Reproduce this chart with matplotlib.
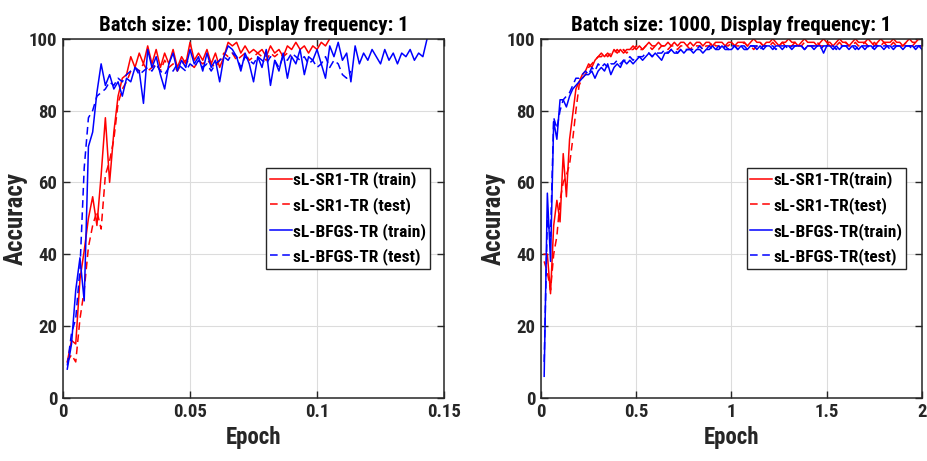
import numpy as np
import matplotlib
matplotlib.use("Agg")
import matplotlib.pyplot as plt
from matplotlib import font_manager

available = {f.name for f in font_manager.fontManager.ttflist}
narrow = [f for f in ["Roboto Condensed", "Liberation Sans Narrow", "Arial Narrow",
                      "Nimbus Sans Narrow"] if f in available]
if narrow:
    plt.rcParams["font.family"] = [narrow[0], "DejaVu Sans"]
    size_scale = 1.0
else:
    plt.rcParams["font.family"] = ["Liberation Sans", "DejaVu Sans"]
    size_scale = 0.86
plt.rcParams["font.weight"] = "bold"

# ---- batch size 100 (600 iterations per epoch) ----
iters_per_epoch_100 = 600
sr1_train_100 = [10, 16, 15, 33, 41, 50, 56, 48, 62, 78, 60, 74, 84, 89, 90, 95, 92, 96, 93, 98,
                 93, 97, 92, 96, 93, 97, 92, 95, 93, 99, 94, 96, 94, 97, 93, 96, 92, 95, 99, 98,
                 99, 96, 98, 96, 97, 96, 97, 95, 98, 96, 97, 95, 98, 97, 99, 97, 98, 96, 98, 97,
                 99, 98, 100]
sr1_test_100 = [10, 12, 10, 22, 30, 42, 48, 52, 47, 62, 66, 72, 82, 86, 88, 91, 92, 91, 93, 91,
                92, 93, 91, 94, 92, 93, 91, 93, 94, 93, 92, 94, 93, 94, 93, 92, 94, 96, 95, 96,
                94, 95, 96, 94, 95, 96, 95, 94, 96, 95, 96, 95, 96, 95]
bfgs_train_100 = [8, 15, 30, 39, 27, 70, 74, 85, 93, 87, 90, 86, 88, 84, 89, 88, 92, 91, 82, 97,
                  92, 95, 90, 86, 93, 96, 91, 94, 92, 97, 93, 95, 91, 96, 92, 94, 88, 95, 98, 97,
                  95, 91, 96, 93, 88, 95, 92, 97, 87, 94, 91, 96, 89, 95, 93, 97, 90, 95, 94, 97,
                  93, 89, 98, 95, 99, 94, 96, 88, 98, 93, 96, 94, 97, 95, 93, 97, 94, 96, 93, 96,
                  95, 97, 94, 96, 95, 100]
bfgs_test_100 = [9, 18, 22, 36, 64, 78, 80, 84, 85, 86, 88, 87, 89, 88, 90, 91, 92, 90, 91, 92,
                 91, 93, 91, 90, 92, 91, 93, 92, 91, 93, 92, 94, 92, 93, 91, 93, 94, 95, 94, 96,
                 95, 92, 95, 94, 93, 95, 94, 93, 95, 94, 92, 95, 94, 96, 95, 94, 95, 93, 94, 92,
                 93, 95, 92, 94, 93, 90, 89, 91]

# ---- batch size 1000 (60 iterations per epoch) ----
iters_per_epoch_1000 = 60
sr1_train_1000 = [40, 40, 29, 48, 55, 49, 68, 56, 72, 79, 86, 88, 90, 91, 93, 92, 94, 95, 96, 95,
                  96, 95, 97, 96, 97, 96, 97, 97, 98, 97, 98, 97, 98, 99, 98, 98, 99, 98, 98, 99,
                  98, 99, 98, 99, 99, 98, 99, 98, 99, 99, 98, 99, 99, 98, 99, 99, 99, 98, 99, 99,
                  98, 99, 99, 99, 98, 99, 100, 99, 99, 98, 99, 99, 100, 99, 98, 99, 99, 100, 99, 99,
                  98, 99, 100, 99, 99, 99, 98, 99, 100, 99, 99, 98, 99, 100, 99, 99, 98, 99, 100, 99,
                  99, 99, 100, 99, 98, 99, 100, 99, 99, 99, 100, 99, 99, 98, 99, 100, 99, 99, 100, 100]
sr1_test_1000 = [38, 35, 30, 40, 45, 55, 60, 62, 65, 72, 80, 87, 89, 90, 92, 93, 94, 95, 95, 96,
                 95, 96, 96, 97, 96, 97, 96, 97, 97, 98, 97, 97, 98, 98, 97, 98, 97, 98, 98, 97,
                 98, 98, 97, 98, 98, 98, 97, 98, 98, 98, 97, 98, 98, 99, 98, 98, 97, 98, 98, 99,
                 98, 98, 98, 99, 98, 98, 97, 98, 99, 98, 98, 98, 99, 98, 98, 99, 98, 98, 98, 99,
                 98, 98, 99, 98, 98, 98, 99, 98, 98, 99, 98, 98, 98, 99, 98, 99, 98, 98, 99, 98,
                 98, 99, 98, 98, 99, 98, 98, 99, 98, 98, 99, 98, 98, 98, 99, 98, 98, 99, 98, 98]
bfgs_train_1000 = [6, 57, 38, 77, 72, 83, 83, 81, 84, 86, 87, 88, 89, 90, 90, 91, 89, 91, 92, 91,
                   93, 90, 92, 93, 92, 94, 93, 94, 93, 94, 95, 94, 95, 96, 95, 96, 95, 94, 96, 96,
                   97, 96, 96, 97, 96, 97, 97, 96, 97, 97, 96, 97, 97, 98, 97, 97, 98, 97, 97, 97,
                   98, 97, 98, 97, 97, 98, 98, 97, 98, 97, 98, 98, 97, 98, 98, 97, 98, 98, 97, 98,
                   98, 98, 97, 98, 98, 97, 98, 98, 96, 98, 98, 97, 98, 97, 98, 98, 97, 98, 98, 97,
                   98, 97, 98, 98, 97, 98, 98, 97, 98, 98, 97, 98, 98, 97, 98, 98, 98, 97, 98, 97]
bfgs_test_1000 = [10, 50, 45, 78, 75, 80, 83, 84, 85, 87, 89, 89, 90, 91, 90, 92, 91, 93, 92, 93,
                  92, 93, 93, 94, 93, 94, 94, 95, 94, 95, 95, 95, 96, 96, 95, 96, 96, 96, 97, 96,
                  97, 97, 96, 97, 97, 97, 97, 97, 97, 98, 97, 97, 98, 97, 97, 98, 97, 98, 97, 98,
                  98, 97, 98, 98, 97, 98, 98, 98, 97, 98, 98, 98, 98, 97, 98, 98, 98, 97, 98, 98,
                  98, 98, 97, 98, 98, 98, 98, 97, 98, 98, 98, 98, 97, 98, 98, 98, 98, 98, 97, 98,
                  98, 98, 98, 97, 98, 98, 98, 98, 98, 97, 98, 98, 98, 98, 98, 98, 97, 98, 98, 98]

titles = ["Batch size: 100, Display frequency: 1", "Batch size: 1000, Display frequency: 1"]
labels_100 = ["sL-SR1-TR (train)", "sL-SR1-TR (test)", "sL-BFGS-TR (train)", "sL-BFGS-TR (test)"]
labels_1000 = ["sL-SR1-TR(train)", "sL-SR1-TR(test)", "sL-BFGS-TR(train)", "sL-BFGS-TR(test)"]
xticks_100 = [0, 0.05, 0.1, 0.15]
xtick_labels_100 = ["0", "0.05", "0.1", "0.15"]
xticks_1000 = [0, 0.5, 1, 1.5, 2]
xtick_labels_1000 = ["0", "0.5", "1", "1.5", "2"]
yticks = [0, 20, 40, 60, 80, 100]

DARK = "#262626"
DASH = (0, (5, 3))

fig = plt.figure(figsize=(9.27, 4.61), dpi=100)
ax1 = fig.add_axes([0.068, 0.137, 0.411, 0.779])
ax2 = fig.add_axes([0.5836, 0.137, 0.411, 0.779])


def epochs(series, per_epoch):
    return np.arange(1, len(series) + 1) / per_epoch


def draw(ax, series, per_epoch, labels, title, xticks, xticklabels, xmax, legend_box):
    styles = [("red", "-"), ("red", DASH), ("blue", "-"), ("blue", DASH)]
    for ys, (c, ls), lab in zip(series, styles, labels):
        ax.plot(epochs(ys, per_epoch), ys, color=c, linestyle=ls, lw=1.1, label=lab)
    ax.set_xlim(0, xmax)
    ax.set_ylim(0, 100)
    ax.set_xticks(xticks)
    ax.set_xticklabels(xticklabels)
    ax.set_yticks(yticks)
    ax.grid(True, color="#dcdcdc", lw=0.8)
    ax.set_axisbelow(True)
    ax.tick_params(direction="in", top=True, right=True, length=5, width=1,
                   colors=DARK, labelsize=13.5 * size_scale, pad=4)
    for lbl in ax.get_xticklabels() + ax.get_yticklabels():
        lbl.set_fontweight("bold")
    for s in ax.spines.values():
        s.set_color(DARK)
        s.set_linewidth(1.1)
    ax.set_title(title, fontsize=15 * size_scale, fontweight="bold", color="black", pad=6)
    ax.set_xlabel("Epoch", fontsize=16.5 * size_scale, fontweight="bold", color=DARK, labelpad=3)
    ax.set_ylabel("Accuracy", fontsize=18 * size_scale, fontweight="bold", color=DARK, labelpad=1)
    leg = ax.legend(loc="center", bbox_to_anchor=legend_box, fontsize=12.5 * size_scale,
                    handlelength=1.25, handletextpad=0.1, labelspacing=0.5,
                    borderpad=0.2, borderaxespad=0, fancybox=False, framealpha=1,
                    edgecolor=DARK)
    leg.get_frame().set_linewidth(1.0)
    for t in leg.get_texts():
        t.set_fontweight("bold")


draw(ax1, [sr1_train_100, sr1_test_100, bfgs_train_100, bfgs_test_100], iters_per_epoch_100,
     labels_100, titles[0], xticks_100, xtick_labels_100, 0.15, (0.748, 0.5))
draw(ax2, [sr1_train_1000, sr1_test_1000, bfgs_train_1000, bfgs_test_1000], iters_per_epoch_1000,
     labels_1000, titles[1], xticks_1000, xtick_labels_1000, 2, (0.749, 0.5))

fig.savefig("out.png", dpi=100)
